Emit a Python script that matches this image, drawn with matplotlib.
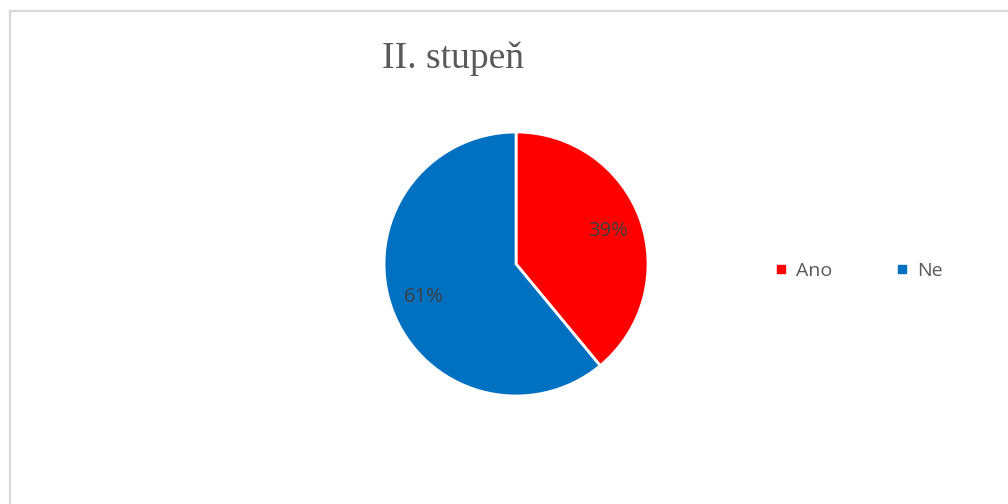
import matplotlib.pyplot as plt
from matplotlib.lines import Line2D
from matplotlib.patches import Rectangle

# answers for the upper grade
labels = ["Ano", "Ne"]
shares = [39, 61]
colors = ["#FF0000", "#0070C0"]

fig = plt.figure(figsize=(10.08, 5.04), dpi=100)

# thin grey frame around the chart area
fig.patches.append(Rectangle((10 / 1008, -0.1), 1.2, (504 - 11) / 504 + 0.1,
                             transform=fig.transFigure, fill=False,
                             edgecolor="#D9D9D9", linewidth=1.6))

ax = fig.add_axes([0.381, 0.2143, 0.2619, 0.5238])
wedges, texts, autotexts = ax.pie(
    shares, colors=colors, startangle=90, counterclock=False,
    autopct="%d%%", pctdistance=0.74,
    wedgeprops=dict(edgecolor="white", linewidth=2),
    textprops=dict(color="#404040", fontsize=14.5, family="Open Sans"))
ax.set_xlim(-1, 1)
ax.set_ylim(-1, 1)
ax.set_aspect("equal")

fig.text(453 / 1008, 1 - 59 / 504, "II. stupeň", ha="center", va="center",
         fontsize=27, family="Liberation Serif", color="#595959")

handles = [Line2D([], [], marker="s", linestyle="none", color=c, markersize=6)
           for c in colors]
fig.legend(handles, labels, loc="center", bbox_to_anchor=(859 / 1008, 1 - 271 / 504),
           ncol=2, frameon=False, handlelength=0.6, handletextpad=0.45,
           columnspacing=3.3, prop=dict(family="Open Sans", size=14),
           labelcolor="#595959")

fig.savefig("out.png", dpi=100)
